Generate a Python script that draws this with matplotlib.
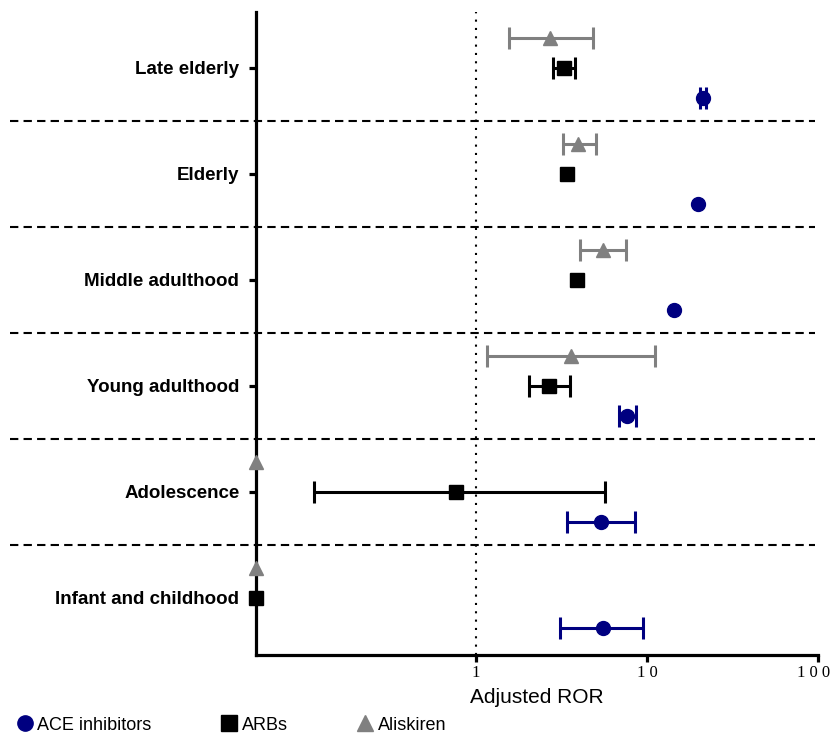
import numpy as np
import matplotlib.pyplot as plt
from matplotlib.lines import Line2D
import matplotlib.transforms as mtransforms

plt.rcParams['font.family'] = ['Liberation Sans', 'DejaVu Sans']

# age groups, bottom to top
groups = ['Infant and childhood', 'Adolescence', 'Young adulthood',
          'Middle adulthood', 'Elderly', 'Late elderly']

# adjusted ROR with 95% CI (0 = no estimate, drawn on the axis)
ace = [5.5, 5.4, 7.6, 14.4, 19.9, 21.2]
ace_lo = [3.1, 3.4, 6.9, 14.4, 19.9, 20.3]
ace_hi = [9.5, 8.5, 8.6, 14.4, 19.9, 22.1]

arb = [0, 0.77, 2.67, 3.9, 3.4, 3.27]
arb_lo = [0, 0.113, 2.04, 3.9, 3.4, 2.82]
arb_hi = [0, 5.7, 3.55, 3.9, 3.4, 3.79]

alis = [0, 0, 3.6, 5.5, 3.95, 2.7]
alis_lo = [0, 0, 1.16, 4.06, 3.22, 1.56]
alis_hi = [0, 0, 11.1, 7.5, 5.03, 4.83]

XMIN, XMAX = 0.052, 100

fig = plt.figure(figsize=(8.34, 7.36), dpi=100)
ax = fig.add_axes([0.307, 0.110, 0.674, 0.874])
ax.set_xscale('log')
ax.set_xlim(XMIN, XMAX)
ax.set_ylim(-0.54, 5.53)

y = np.arange(len(groups))
series = [
    (ace, ace_lo, ace_hi, -0.283, 'o', '#000080', 10),
    (arb, arb_lo, arb_hi, 0.0, 's', 'black', 10.5),
    (alis, alis_lo, alis_hi, 0.283, '^', '#808080', 10),
]
for vals, lo, hi, off, mk, col, ms in series:
    vals = np.array(vals, float)
    lo = np.array(lo, float)
    hi = np.array(hi, float)
    has = vals > 0
    ci = has & (hi > lo)
    ax.errorbar(vals[ci], y[ci] + off,
                xerr=[vals[ci] - lo[ci], hi[ci] - vals[ci]],
                fmt='none', ecolor=col, elinewidth=2.2, capsize=8,
                capthick=2.2, zorder=3)
    ax.plot(vals[has], y[has] + off, mk, color=col, ms=ms, zorder=4)
    # missing estimates sit on the y axis
    ax.plot(np.full((~has).sum(), XMIN), y[~has] + off, mk, color=col,
            ms=ms, clip_on=False, zorder=4)

# dotted reference line at ROR = 1
ax.axvline(1, color='black', ls=(0, (1, 3)), lw=1.5, zorder=1)

# dashed separators between groups
trans = mtransforms.blended_transform_factory(ax.transAxes, ax.transData)
for b in y[:-1] + 0.5:
    ax.plot([-0.438, 0.995], [b, b], transform=trans, color='black',
            ls=(0, (4, 2.5)), lw=1.5, clip_on=False, zorder=1)

for side in ['top', 'right']:
    ax.spines[side].set_visible(False)
for side in ['left', 'bottom']:
    ax.spines[side].set_linewidth(2.3)

ax.set_yticks(y)
ax.set_yticklabels(groups, fontsize=13.5, fontweight='bold')
ax.tick_params(axis='y', length=5, width=2.3, pad=7)
ax.set_xticks([1, 10, 100])
ax.set_xticklabels(['1', '1 0', '1 0 0'], fontsize=12,
                   family='Liberation Serif')
ax.minorticks_off()
ax.tick_params(axis='x', length=5, width=2.3, pad=2)
ax.set_xlabel('Adjusted ROR', fontsize=15, labelpad=5)

# keep the last tick label inside the figure
last = ax.get_xticklabels()[-1]
last.set_transform(last.get_transform() +
                   mtransforms.ScaledTranslation(-0.05, 0, fig.dpi_scale_trans))

handles = [
    Line2D([], [], marker='o', color='#000080', ls='none', ms=11),
    Line2D([], [], marker='s', color='black', ls='none', ms=11),
    Line2D([], [], marker='^', color='#808080', ls='none', ms=11),
]
fig.legend(handles, ['ACE inhibitors', 'ARBs', 'Aliskiren'], ncol=3,
           loc='lower left', bbox_to_anchor=(-0.003, -0.019), frameon=False,
           fontsize=13, handletextpad=0.1, columnspacing=3.7,
           handlelength=1.2)

fig.savefig('out.png', dpi=100)
